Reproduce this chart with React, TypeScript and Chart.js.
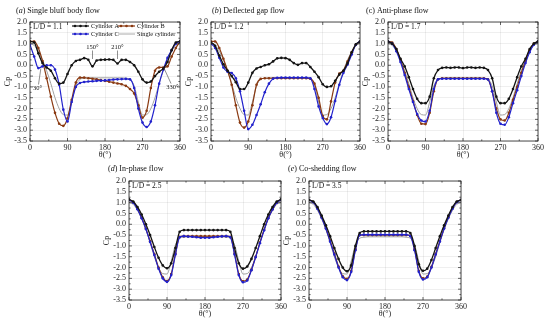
import React, { useEffect, useRef } from 'react';
import { Chart, registerables } from 'chart.js';
Chart.register(...registerables);

const FF = "'Liberation Serif', 'Times New Roman', serif";

// angle (deg) sample points
const angles = [0, 10, 20, 30, 40, 50, 60, 70, 80, 90, 100, 110, 120, 130, 140, 150, 160, 170, 180,
  190, 200, 210, 220, 230, 240, 250, 260, 270, 280, 290, 300, 310, 320, 330, 340, 350, 360];

const seriesNames = ['Cylinder A', 'Cylinder B', 'Cylinder C', 'Single cylinder'];
const xTickValues = [0, 90, 180, 270, 360];

const singleCp = [1.0, 0.92, 0.65, 0.25, -0.25, -0.85, -1.5, -2.0, -2.28, -2.3, -1.7, -0.95, -0.65,
  -0.6, -0.58, -0.58, -0.58, -0.58, -0.58, -0.58, -0.58, -0.58, -0.58, -0.6,
  -0.65, -0.95, -1.7, -2.3, -2.28, -2.0, -1.5, -0.85, -0.25, 0.25, 0.65, 0.92, 1.0];

// (a) L/D = 1.1
const aA = [1.1, 1.05, 0.55, 0.1, -0.1, -0.25, -0.6, -0.85, -0.8, -0.4, 0.0, 0.2, 0.25, 0.33, 0.25, -0.05,
  0.22, 0.25, 0.26, 0.27, 0.25, 0.08, 0.25, 0.25, 0.15, 0.0, -0.3, -0.65, -0.8, -0.75, -0.5, -0.3, -0.15,
  0.15, 0.7, 1.05, 1.1];
const aB = [1.1, 1.1, 0.8, 0.2, -0.6, -1.45, -2.2, -2.7, -2.8, -2.45, -1.6, -0.8, -0.57, -0.57, -0.6,
  -0.62, -0.65, -0.68, -0.72, -0.76, -0.8, -0.84, -0.88, -0.95, -1.1, -1.3, -1.85, -2.42, -2.1, -1.05,
  -0.25, -0.1, -0.1, -0.05, 0.4, 0.8, 1.1];
const aC = [0.95, 0.4, -0.13, -0.05, 0.0, 0.0, -0.2, -0.9, -2.05, -2.6, -1.7, -1.0, -0.82, -0.77, -0.75,
  -0.74, -0.72, -0.71, -0.7, -0.68, -0.66, -0.65, -0.64, -0.63, -0.65, -1.05, -2.0, -2.65, -2.85, -2.6,
  -1.85, -0.85, -0.2, 0.34, 0.7, 1.0, 1.1];

// (b) L/D = 1.2
const bA = [1.05, 0.9, 0.45, 0.05, -0.25, -0.5, -0.78, -1.1, -1.1, -0.8, -0.35, -0.15, -0.08, 0.0, 0.05,
  0.18, 0.32, 0.34, 0.33, 0.25, 0.1, 0.02, 0.1, 0.1, -0.08, -0.3, -0.55, -0.88, -1.0, -0.97, -0.72,
  -0.43, -0.25, 0.1, 0.6, 0.97, 1.1];
const bB = [1.1, 1.1, 0.8, 0.3, -0.25, -0.9, -1.85, -2.65, -2.88, -2.6, -1.85, -0.9, -0.63, -0.6, -0.6,
  -0.6, -0.6, -0.6, -0.6, -0.6, -0.6, -0.6, -0.6, -0.6, -0.62, -0.85, -1.5, -2.35, -2.5, -1.67, -0.8,
  -0.38, -0.25, 0.18, 0.6, 0.95, 1.1];
const bC = [1.0, 0.8, 0.35, -0.1, -0.3, -0.36, -0.6, -1.2, -2.1, -2.95, -2.75, -2.3, -1.8, -1.25, -0.85,
  -0.62, -0.58, -0.57, -0.57, -0.57, -0.57, -0.57, -0.57, -0.57, -0.6, -1.1, -1.9, -2.44, -2.72, -2.4,
  -1.65, -0.9, -0.35, 0.03, 0.5, 0.95, 1.1];

// (c) L/D = 1.7
const cA = [1.1, 1.0, 0.75, 0.3, -0.05, -0.55, -1.1, -1.55, -1.75, -1.75, -1.45, -0.6, -0.22, -0.12,
  -0.1, -0.12, -0.1, -0.1, -0.13, -0.1, -0.1, -0.12, -0.1, -0.12, -0.22, -0.6, -1.45, -1.75, -1.75,
  -1.55, -1.1, -0.55, -0.05, 0.3, 0.75, 1.0, 1.1];
const cB = [1.1, 1.05, 0.75, 0.25, -0.35, -1.0, -1.65, -2.3, -2.7, -2.72, -2.2, -1.2, -0.65, -0.6, -0.6,
  -0.6, -0.6, -0.6, -0.6, -0.6, -0.6, -0.6, -0.6, -0.6, -0.65, -1.2, -2.0, -2.5, -2.55, -2.2, -1.6,
  -1.0, -0.35, 0.2, 0.7, 1.0, 1.1];
const cC = [1.1, 1.0, 0.65, 0.15, -0.45, -1.1, -1.7, -2.25, -2.55, -2.6, -2.1, -1.1, -0.65, -0.62,
  -0.62, -0.62, -0.62, -0.62, -0.62, -0.62, -0.62, -0.62, -0.62, -0.62, -0.66, -1.2, -2.2, -2.7, -2.75,
  -2.4, -1.75, -1.15, -0.5, 0.1, 0.6, 0.95, 1.1];

// (d) L/D = 2.5
const dA = [1.15, 1.05, 0.8, 0.45, 0.0, -0.5, -1.05, -1.55, -1.9, -2.03, -1.8, -1.1, -0.35, -0.27, -0.27,
  -0.27, -0.27, -0.27, -0.27, -0.27, -0.27, -0.27, -0.27, -0.27, -0.35, -1.1, -1.8, -2.05, -1.95, -1.6,
  -1.1, -0.55, 0.0, 0.45, 0.8, 1.05, 1.15];
const dB = [1.12, 1.02, 0.72, 0.3, -0.2, -0.78, -1.38, -2.0, -2.45, -2.62, -2.3, -1.35, -0.58, -0.55,
  -0.55, -0.55, -0.55, -0.55, -0.55, -0.55, -0.55, -0.55, -0.55, -0.55, -0.58, -1.35, -2.3, -2.63,
  -2.55, -2.1, -1.5, -0.85, -0.25, 0.3, 0.7, 1.0, 1.12];
const dC = [1.12, 1.0, 0.7, 0.28, -0.22, -0.82, -1.42, -2.05, -2.5, -2.66, -2.35, -1.4, -0.6, -0.55,
  -0.57, -0.58, -0.6, -0.62, -0.62, -0.62, -0.6, -0.58, -0.56, -0.55, -0.6, -1.4, -2.35, -2.68, -2.6,
  -2.12, -1.52, -0.88, -0.28, 0.28, 0.68, 1.0, 1.12];

// (e) L/D = 3.5
const eA = [1.12, 1.05, 0.8, 0.4, -0.05, -0.55, -1.1, -1.6, -2.0, -2.17, -1.9, -1.0, -0.4, -0.33, -0.33,
  -0.33, -0.33, -0.33, -0.33, -0.33, -0.33, -0.33, -0.33, -0.33, -0.4, -1.0, -1.85, -2.15, -2.05, -1.65,
  -1.1, -0.55, -0.05, 0.4, 0.8, 1.05, 1.12];
const eB = [1.12, 1.03, 0.75, 0.33, -0.17, -0.75, -1.35, -1.95, -2.4, -2.52, -2.15, -1.15, -0.5, -0.5,
  -0.5, -0.5, -0.5, -0.5, -0.5, -0.5, -0.5, -0.5, -0.5, -0.5, -0.52, -1.15, -2.15, -2.5, -2.42, -1.97,
  -1.37, -0.77, -0.17, 0.33, 0.75, 1.03, 1.12];
const eC = [1.12, 1.02, 0.72, 0.3, -0.2, -0.8, -1.4, -2.0, -2.45, -2.58, -2.2, -1.2, -0.5, -0.48, -0.48,
  -0.48, -0.48, -0.48, -0.48, -0.48, -0.48, -0.48, -0.48, -0.48, -0.55, -1.2, -2.2, -2.55, -2.45, -2.0,
  -1.4, -0.8, -0.2, 0.3, 0.72, 1.02, 1.12];

const COLORS = { A: '#141414', B: '#8a3a12', C: '#2222cc', S: '#a0a0a0' };

type Panel = {
  letter: string; italic: boolean; title: string; ld: string;
  A: number[]; B: number[]; C: number[];
  left: number; top: number; w: number; h: number; padTop: number;
  titleDx: number; titleDy: number; legend: boolean;
};

const panels: Panel[] = [
  { letter: 'a', italic: true, title: 'Single bluff body flow', ld: 'L/D = 1.1', A: aA, B: aB, C: aC,
    left: 0, top: 0, w: 188, h: 161, padTop: 22, titleDx: -14, titleDy: -11, legend: true },
  { letter: 'b', italic: true, title: 'Deflected gap flow', ld: 'L/D = 1.2', A: bA, B: bB, C: bC,
    left: 181, top: 0, w: 187, h: 161, padTop: 22, titleDx: 1, titleDy: -11, legend: false },
  { letter: 'c', italic: false, title: 'Anti-phase flow', ld: 'L/D = 1.7', A: cA, B: cB, C: cC,
    left: 358, top: 0, w: 188, h: 161, padTop: 22, titleDx: -22, titleDy: -11, legend: false },
  { letter: 'd', italic: true, title: 'In-phase flow', ld: 'L/D = 2.5', A: dA, B: dB, C: dC,
    left: 99, top: 160, w: 190, h: 160, padTop: 21, titleDx: -21, titleDy: -12, legend: false },
  { letter: 'e', italic: true, title: 'Co-shedding flow', ld: 'L/D = 3.5', A: eA, B: eB, C: eC,
    left: 279, top: 160, w: 190, h: 160, padTop: 21, titleDx: -21, titleDy: -12, legend: false },
];

function toXY(vals: number[]) {
  return angles.map((a, i) => ({ x: a, y: vals[i] }));
}

function makeDecor(p: Panel) {
  return {
    id: 'decor',
    afterDraw(chart: any) {
      const ctx = chart.ctx as CanvasRenderingContext2D;
      const { left, right, top, bottom } = chart.chartArea;
      const xs = chart.scales.x;
      const ys = chart.scales.y;
      ctx.save();
      ctx.strokeStyle = '#222';
      ctx.lineWidth = 0.8;
      ctx.strokeRect(left, top, right - left, bottom - top);
      ctx.lineWidth = 0.7;
      ctx.beginPath();
      const xt = xs.ticks.map((t: any) => t.value);
      xt.forEach((v: number, i: number) => {
        const px = xs.getPixelForValue(v);
        ctx.moveTo(px, bottom); ctx.lineTo(px, bottom - 3);
        ctx.moveTo(px, top); ctx.lineTo(px, top + 3);
        if (i < xt.length - 1) {
          const mx = xs.getPixelForValue((v + xt[i + 1]) / 2);
          ctx.moveTo(mx, bottom); ctx.lineTo(mx, bottom - 1.6);
          ctx.moveTo(mx, top); ctx.lineTo(mx, top + 1.6);
        }
      });
      const yt = ys.ticks.map((t: any) => t.value);
      yt.forEach((v: number, i: number) => {
        const py = ys.getPixelForValue(v);
        ctx.moveTo(left, py); ctx.lineTo(left + 3, py);
        ctx.moveTo(right, py); ctx.lineTo(right - 3, py);
        if (i < yt.length - 1) {
          const my = ys.getPixelForValue((v + yt[i + 1]) / 2);
          ctx.moveTo(left, my); ctx.lineTo(left + 1.6, my);
          ctx.moveTo(right, my); ctx.lineTo(right - 1.6, my);
        }
      });
      ctx.stroke();

      ctx.fillStyle = '#111';
      ctx.textBaseline = 'middle';
      ctx.textAlign = 'left';
      let tx = left + p.titleDx;
      const ty = top + p.titleDy;
      ctx.font = `8px ${FF}`;
      ctx.fillText('(', tx, ty); tx += ctx.measureText('(').width;
      ctx.font = `${p.italic ? 'italic ' : ''}8px ${FF}`;
      ctx.fillText(p.letter, tx, ty); tx += ctx.measureText(p.letter).width;
      ctx.font = `8px ${FF}`;
      ctx.fillText(') ' + p.title, tx, ty);

      ctx.font = `7.5px ${FF}`;
      ctx.fillText(p.ld, left + 3, top + 5);

      if (p.legend) {
        const ds = chart.data.datasets;
        const find = (name: string) => ds.find((d: any) => d.label === name);
        const items = [
          { d: find(seriesNames[0]), x: left + 42, y: top + 4, dots: true },
          { d: find(seriesNames[1]), x: left + 88, y: top + 4, dots: true },
          { d: find(seriesNames[2]), x: left + 42, y: top + 12, dots: true },
          { d: find(seriesNames[3]), x: left + 88, y: top + 12, dots: false },
        ];
        ctx.font = `6.3px ${FF}`;
        items.forEach((it) => {
          if (!it.d) return;
          ctx.strokeStyle = it.d.borderColor;
          ctx.lineWidth = it.dots ? 1.2 : 0.9;
          ctx.beginPath();
          ctx.moveTo(it.x, it.y); ctx.lineTo(it.x + 17, it.y);
          ctx.stroke();
          if (it.dots) {
            ctx.fillStyle = it.d.borderColor;
            [3, 8.5, 14].forEach((o) => {
              ctx.beginPath(); ctx.arc(it.x + o, it.y, 1.3, 0, Math.PI * 2); ctx.fill();
            });
          }
          ctx.fillStyle = '#111';
          ctx.fillText(it.d.label, it.x + 19, it.y + 0.5);
        });

        ctx.font = `6.5px ${FF}`;
        ctx.textAlign = 'center';
        ctx.strokeStyle = '#444';
        ctx.lineWidth = 0.6;
        [150, 210].forEach((a) => {
          const px = xs.getPixelForValue(a);
          ctx.fillStyle = '#111';
          ctx.fillText(`${a}°`, px, top + 25);
          ctx.beginPath(); ctx.moveTo(px, top + 28.5); ctx.lineTo(px, top + 37); ctx.stroke();
        });
        const p30x = xs.getPixelForValue(30) - 5;
        ctx.fillText('30°', p30x, top + 66);
        ctx.beginPath();
        ctx.moveTo(p30x + 1, top + 62.5);
        ctx.lineTo(xs.getPixelForValue(26), ys.getPixelForValue(-0.15));
        ctx.stroke();
        const p330x = xs.getPixelForValue(330) + 5;
        ctx.fillText('330°', p330x, top + 65);
        ctx.beginPath();
        ctx.moveTo(p330x - 1.5, top + 61.5);
        ctx.lineTo(xs.getPixelForValue(322), ys.getPixelForValue(-0.15));
        ctx.stroke();
      }
      ctx.restore();
    },
  };
}

function PanelChart({ p }: { p: Panel }) {
  const ref = useRef<HTMLCanvasElement>(null);
  useEffect(() => {
    if (!ref.current) return;
    const line = (label: string, vals: number[], color: string, dots: boolean, width: number) => ({
      label,
      data: toXY(vals),
      borderColor: color,
      backgroundColor: color,
      borderWidth: width,
      pointRadius: dots ? 1.3 : 0,
      pointBorderWidth: 0,
      pointBackgroundColor: color,
      cubicInterpolationMode: 'monotone' as const,
      fill: false,
    });
    const tickFont = { family: FF, size: 8 };
    const chart = new Chart(ref.current, {
      type: 'line',
      data: {
        datasets: [
          line(seriesNames[0], p.A, COLORS.A, true, 1.3),
          line(seriesNames[2], p.C, COLORS.C, true, 1.2),
          line(seriesNames[1], p.B, COLORS.B, true, 1.2),
          line(seriesNames[3], singleCp, COLORS.S, false, 1.0),
        ],
      },
      options: {
        responsive: false,
        maintainAspectRatio: false,
        devicePixelRatio: 1,
        animation: false,
        events: [],
        layout: { padding: { top: p.padTop, right: 8, left: 0, bottom: 0 } },
        plugins: { legend: { display: false }, tooltip: { enabled: false }, title: { display: false } },
        scales: {
          x: {
            type: 'linear',
            min: 0,
            max: 360,
            afterBuildTicks: (s: any) => { s.ticks = xTickValues.map((v) => ({ value: v })); },
            afterFit: (s: any) => { s.height = 20; },
            ticks: { font: tickFont, color: '#222', padding: 2, maxRotation: 0, autoSkip: false },
            grid: { color: 'rgba(0,0,0,0.13)', lineWidth: 0.5, drawTicks: false },
            border: { display: false },
            title: { display: true, text: 'θ(°)', font: tickFont, color: '#222', padding: { top: 0, bottom: 1 } },
          },
          y: {
            type: 'linear',
            min: -3.5,
            max: 2.0,
            afterFit: (s: any) => { s.width = 30; },
            ticks: {
              stepSize: 0.5,
              autoSkip: false,
              font: tickFont,
              color: '#222',
              padding: 3,
              callback: (v: any) => Number(v).toFixed(1),
            },
            grid: { color: 'rgba(0,0,0,0.13)', lineWidth: 0.5, drawTicks: false },
            border: { display: false },
            title: { display: true, text: 'Cp', font: tickFont, color: '#222', padding: { top: 3, bottom: 0 } },
          },
        },
      },
      plugins: [makeDecor(p)],
    } as any);
    return () => chart.destroy();
  }, [p]);
  return (
    <canvas
      ref={ref}
      width={p.w}
      height={p.h}
      style={{ position: 'absolute', left: p.left, top: p.top, width: p.w, height: p.h }}
    />
  );
}

export default function App() {
  return (
    <div style={{ position: 'absolute', left: 0, top: 0, width: 550, height: 323, background: '#fff', overflow: 'hidden' }}>
      {panels.map((p) => (
        <PanelChart key={p.letter} p={p} />
      ))}
    </div>
  );
}
